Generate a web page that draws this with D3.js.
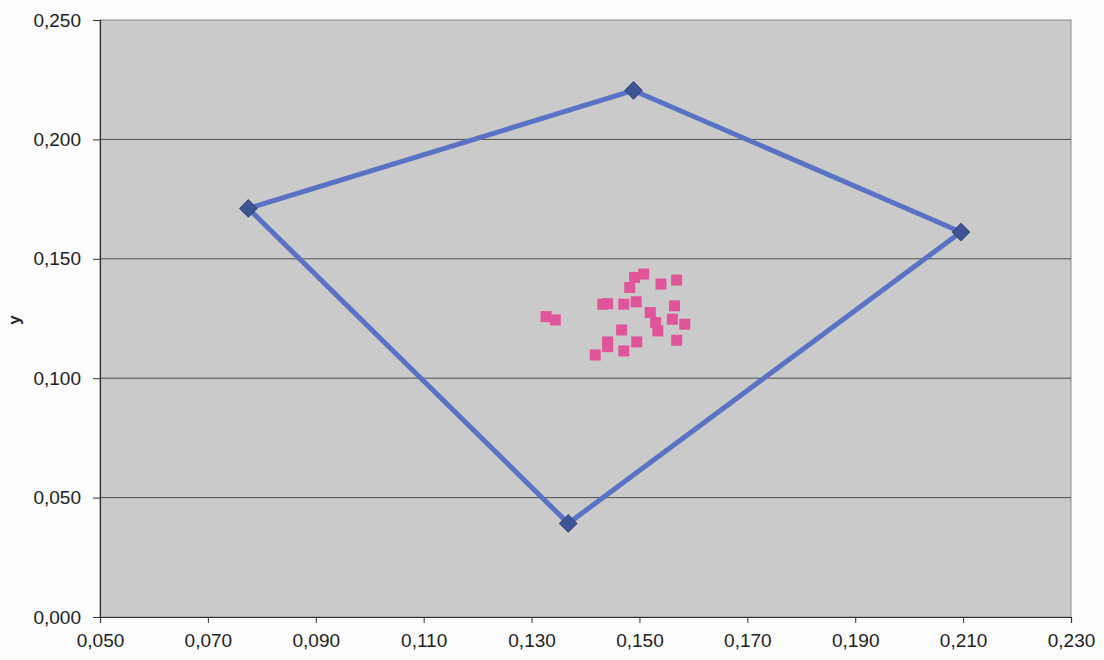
<!DOCTYPE html>
<html><head><meta charset="utf-8">
<script src="https://cdn.jsdelivr.net/npm/d3@7"></script>
<style>body{margin:0;background:#fbfbfb}svg{display:block}</style>
</head><body><svg id="c" width="1104" height="660"></svg>
<script>
// Polygon (closed) series
const polyX = [0.0775, 0.1489, 0.2096, 0.1368, 0.0775];
const polyY = [0.1711, 0.2205, 0.1612, 0.0392, 0.1711];
// Sample points
const ptX = [0.1327,0.1344,0.1432,0.1441,0.1471,0.1494,0.1482,0.1491,0.1508,0.1540,0.1569,0.1520,0.1565,0.1530,0.1534,0.1561,0.1584,0.1467,0.1441,0.1418,0.1471,0.1495,0.1569,0.1441];
const ptY = [0.1258,0.1244,0.1310,0.1312,0.1310,0.1320,0.1380,0.1422,0.1436,0.1394,0.1411,0.1275,0.1303,0.1233,0.1198,0.1247,0.1226,0.1202,0.1132,0.1097,0.1114,0.1152,0.1159,0.1152];
const xTicks = [0.05,0.07,0.09,0.11,0.13,0.15,0.17,0.19,0.21,0.23];
const yTicks = [0,0.05,0.1,0.15,0.2,0.25];
const yTitle = "y";

const fmt = v => d3.format(".3f")(v).replace(".", ",");
const svg = d3.select("#c");
const L=100, R=1071, T=20, B=617;
const x = d3.scaleLinear().domain([0.05,0.23]).range([L,R]);
const y = d3.scaleLinear().domain([0,0.25]).range([B,T]);

svg.append("rect").attr("x",L).attr("y",T).attr("width",R-L).attr("height",B-T)
  .attr("fill","#cacaca").attr("stroke","#8a8a8a").attr("stroke-width",1);

svg.append("g").selectAll("line").data(yTicks.filter(d=>d>0 && d<0.25)).join("line")
  .attr("x1",L).attr("x2",R).attr("y1",d=>y(d)).attr("y2",d=>y(d))
  .attr("stroke","#505050").attr("stroke-width",1);

const xa = svg.append("g").attr("transform",`translate(0,${B})`)
  .call(d3.axisBottom(x).tickValues(xTicks).tickFormat(fmt).tickSize(6).tickPadding(11));
const ya = svg.append("g").attr("transform",`translate(${L},0)`)
  .call(d3.axisLeft(y).tickValues(yTicks).tickFormat(fmt).tickSize(7).tickPadding(12));
[xa,ya].forEach(a=>{
  a.attr("font-size",null).attr("font-family",null);
  a.selectAll("path").attr("stroke","#333").attr("stroke-width",1.2);
  a.selectAll("line").attr("stroke","#333");
  a.selectAll("text").style("font-family","Liberation Sans, Arial, sans-serif")
   .style("font-size","19px").attr("fill","#222");
});

svg.append("text").attr("transform","translate(20,320) rotate(-90)")
  .attr("text-anchor","middle").style("font-family","Liberation Sans, Arial, sans-serif")
  .attr("font-weight","bold").style("font-size","17px").attr("fill","#222").text(yTitle);

const poly = polyX.map((v,i)=>[v,polyY[i]]);
svg.append("path").datum(poly)
  .attr("d",d3.line().x(d=>x(d[0])).y(d=>y(d[1])))
  .attr("fill","none").attr("stroke","#5a72c4").attr("stroke-width",5).attr("stroke-linejoin","round");
svg.append("g").selectAll("path").data(poly.slice(0,4)).join("path")
  .attr("transform",d=>`translate(${x(d[0])},${y(d[1])}) rotate(45)`)
  .attr("d",d3.symbol(d3.symbolSquare,150))
  .attr("fill","#3d5594").attr("stroke","#34497f").attr("stroke-width",1);

svg.append("g").selectAll("rect").data(ptX.map((v,i)=>[v,ptY[i]])).join("rect")
  .attr("x",d=>x(d[0])-5.5).attr("y",d=>y(d[1])-5.5).attr("width",11).attr("height",11)
  .attr("fill","#e0559a");
</script></body></html>
